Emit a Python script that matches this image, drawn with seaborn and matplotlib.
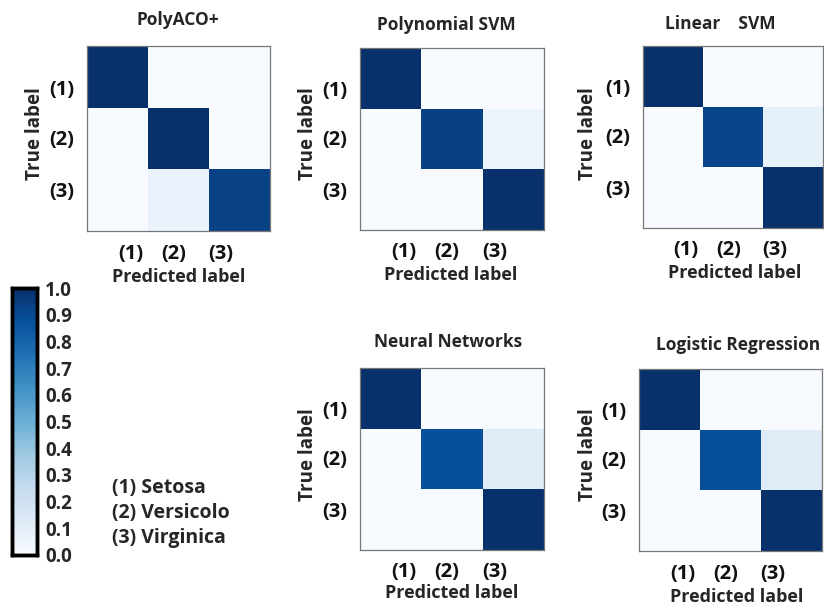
import numpy as np
import pandas as pd
import matplotlib
matplotlib.use("Agg")
import matplotlib.pyplot as plt
import seaborn as sns

# Class names and tick labels
classes = ["Setosa", "Versicolo", "Virginica"]
tick_labels = ["(1)", "(2)", "(3)"]

# Normalised confusion matrices (rows: true label, columns: predicted label)
polyaco = [[1.00, 0.00, 0.00],
           [0.00, 1.00, 0.00],
           [0.00, 0.07, 0.93]]
poly_svm = [[1.00, 0.00, 0.00],
            [0.00, 0.94, 0.06],
            [0.00, 0.00, 1.00]]
linear_svm = [[1.00, 0.00, 0.00],
              [0.00, 0.92, 0.08],
              [0.00, 0.00, 1.00]]
neural_net = [[1.00, 0.00, 0.00],
              [0.00, 0.88, 0.12],
              [0.00, 0.00, 1.00]]
logistic = [[1.00, 0.00, 0.00],
            [0.00, 0.88, 0.12],
            [0.00, 0.00, 1.00]]

titles = ["PolyACO+", "Polynomial SVM", "Linear    SVM", "Neural Networks", "Logistic Regression"]
matrices = [polyaco, poly_svm, linear_svm, neural_net, logistic]
cbar_ticks = [0.0, 0.1, 0.2, 0.3, 0.4, 0.5, 0.6, 0.7, 0.8, 0.9, 1.0]

sns.set_theme(style="white")
plt.rcParams["font.family"] = ["Open Sans", "DejaVu Sans"]
plt.rcParams["font.weight"] = "bold"

W, H = 824, 609
fig = plt.figure(figsize=(W / 100, H / 100), dpi=100)


def box(x0, y0, x1, y1):
    """Pixel box (top-left origin) to figure-fraction rect."""
    return [x0 / W, 1 - y1 / H, (x1 - x0) / W, (y1 - y0) / H]


def at(x, y):
    return x / W, 1 - y / H


# panel boxes, title/label anchors
panels = [
    dict(rect=box(87, 46, 270, 231), title=(178, 20), xlab=(179, 277), ylab=(35, 134)),
    dict(rect=box(360, 48, 544, 230), title=(446, 25), xlab=(451, 275), ylab=(308, 134)),
    dict(rect=box(643, 46, 823, 228), title=(720, 24), xlab=(735, 273), ylab=(588, 134)),
    dict(rect=box(360, 368, 544, 550), title=(448, 342), xlab=(452, 593), ylab=(308, 455)),
    dict(rect=box(639, 369, 822, 551), title=(738, 345), xlab=(737, 597), ylab=(588, 455)),
]

cax = fig.add_axes(box(12, 288, 37, 555))

for i, (mat, title, p) in enumerate(zip(matrices, titles, panels)):
    ax = fig.add_axes(p["rect"])
    df = pd.DataFrame(mat, index=classes, columns=classes)
    sns.heatmap(df, ax=ax, cmap="Blues", vmin=0, vmax=1,
                cbar=(i == 0), cbar_ax=cax if i == 0 else None,
                xticklabels=False, yticklabels=False)
    # tick labels
    ax.set_xticks([0.72, 1.42, 2.2])
    ax.set_xticklabels(tick_labels, fontsize=14.5, fontweight="bold")
    ax.set_yticks([0.67, 1.48, 2.33])
    ax.set_yticklabels(tick_labels, fontsize=14.5, fontweight="bold", rotation=0)
    ax.tick_params(axis="both", which="major", length=0, pad=9, colors="#111111")
    ax.set_xticks([0.5, 1.5, 2.5], minor=True)
    ax.set_yticks([0.5, 1.5, 2.5], minor=True)
    ax.tick_params(axis="both", which="minor", direction="in", length=3, width=0.8,
                   color="#888888", top=True, right=True, bottom=True, left=True)
    for s in ax.spines.values():
        s.set_visible(True)
        s.set_color("#777777")
        s.set_linewidth(0.9)
    fig.text(*at(*p["title"]), title, ha="center", va="center", fontsize=12.5, fontweight="bold")
    fig.text(*at(*p["xlab"]), "Predicted label", ha="center", va="center", fontsize=13, fontweight="bold")
    fig.text(*at(*p["ylab"]), "True label", ha="center", va="center", rotation=90, fontsize=13.5, fontweight="bold")

# colour bar styling
cax.set_yticks(cbar_ticks)
cax.set_yticklabels([f"{t:.1f}" for t in cbar_ticks], fontsize=13.5, fontweight="bold")
cax.tick_params(axis="y", direction="in", length=4, width=0.8, color="#222222", pad=6)
cbar = cax.collections[0].colorbar if cax.collections else None
for s in cax.spines.values():
    s.set_visible(True)
    s.set_linewidth(2.5)
    s.set_color("black")
if cbar is not None:
    cbar.outline.set_linewidth(2.5)
    cbar.outline.set_edgecolor("black")

# class legend
for k, (lab, name) in enumerate(zip(tick_labels, classes)):
    fig.text(*at(112, 488 + 25 * k), f"{lab} {name}", ha="left", va="center",
             fontsize=14, fontweight="bold")

fig.savefig("out.png", dpi=100)
